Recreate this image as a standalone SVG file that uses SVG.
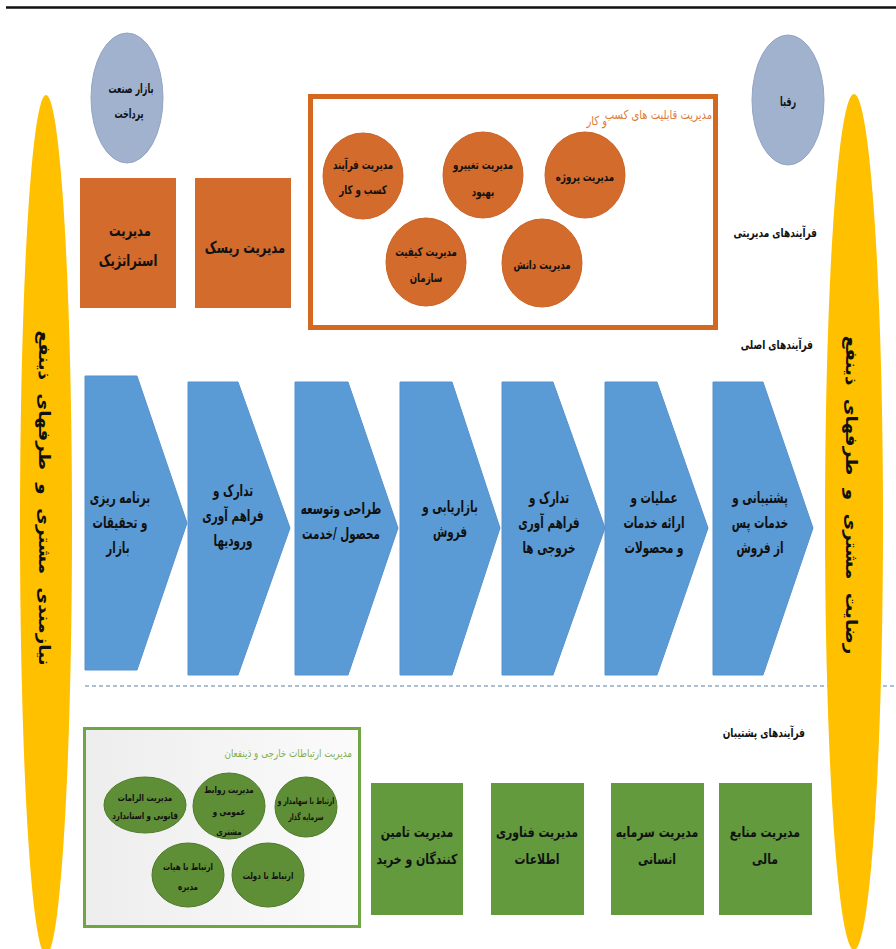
<svg xmlns="http://www.w3.org/2000/svg" width="896" height="949" viewBox="0 0 896 949">
<defs>
<style>
.t{font-family:'DejaVu Sans',sans-serif;font-weight:bold;fill:#111;text-anchor:middle}
.chev{fill:#5B9BD5;stroke:#5592CF;stroke-width:1}
.ob{fill:#D26B2B}
.oc{fill:#D26B2B;stroke:#C96326;stroke-width:1}
.gb{fill:#629A3D}
.gc{fill:#5E8F36;stroke:#4E7A2A;stroke-width:1}
.bl{fill:#A1B2CE;stroke:#93A5C4;stroke-width:1}
.yl{fill:#FFC000}
.lab{font-family:'DejaVu Sans',sans-serif;font-weight:bold;fill:#111;text-anchor:end;font-size:12.5px}
.cv{font-size:16px}
.gx{font-size:14px}
.oo{font-size:12px}
.gs{font-size:9.5px}
</style>
<linearGradient id="gg" x1="0" y1="0" x2="1" y2="0">
<stop offset="0" stop-color="#EDEDED"/><stop offset="1" stop-color="#FBFBFB"/>
</linearGradient>
</defs>
<rect width="896" height="949" fill="#fff"/>
<g id="decor">
<line x1="6" y1="7.5" x2="896" y2="7.5" stroke="#111" stroke-width="2.5"/>
<line x1="85" y1="686" x2="896" y2="686" stroke="#5B7FA8" stroke-width="1.2" stroke-dasharray="4,3"/>
</g>
<g id="left-needs">
<ellipse class="yl" cx="46" cy="525" rx="26" ry="430"/>
<text class="t" font-size="16" word-spacing="6" transform="translate(39,498) rotate(90) scale(1.15,1)">نیازمندی مشتری و طرفهای ذینفع</text>
</g>
<g id="right-satisfaction">
<ellipse class="yl" cx="854" cy="522" rx="29" ry="428"/>
<text class="t" font-size="16" word-spacing="6" transform="translate(846,495) rotate(90) scale(1.15,1)">رضایت مشتری و طرفهای ذینفع</text>
</g>
<g id="payment-industry">
<ellipse class="bl" cx="127" cy="98" rx="36" ry="65"/>
<text class="t" font-size="13" transform="matrix(0.62 0 0 1 131 93)">بازار صنعت</text>
<text class="t" font-size="13" transform="matrix(0.62 0 0 1 129 118)">پرداخت</text>
</g>
<g id="competitors">
<ellipse class="bl" cx="788" cy="100" rx="36" ry="65"/>
<text class="t" font-size="13" transform="matrix(0.62 0 0 1 788 106)">رقبا</text>
</g>
<g id="strategic">
<rect class="ob" x="80" y="178" width="96" height="130"/>
<text class="t" font-size="16" transform="matrix(0.72 0 0 1 130 236)">مدیریت</text>
<text class="t" font-size="16" transform="matrix(0.72 0 0 1 128 266)">استراتژیک</text>
</g>
<g id="risk">
<rect class="ob" x="195" y="178" width="96" height="130"/>
<text class="t" font-size="16" transform="matrix(0.72 0 0 1 245 253)">مدیریت ریسک</text>
</g>
<g id="capabilities">
<rect x="310.5" y="96.5" width="405" height="231" fill="#fff" stroke="#D2691E" stroke-width="5"/>
<text font-family="'DejaVu Sans',sans-serif" font-size="12.5" fill="#E07B39" text-anchor="end" transform="matrix(0.8 0 0 1 712 119)">مدیریت قابلیت های کسب</text>
<text font-family="'DejaVu Sans',sans-serif" font-size="12.5" fill="#E07B39" text-anchor="end" transform="matrix(0.8 0 0 1 607 125)">و کار</text>
</g>
<g id="bpm">
<ellipse class="oc" cx="363" cy="176" rx="40" ry="43"/>
<text class="t oo" transform="matrix(0.72 0 0 1 363 169)">مدیریت فرآیند</text>
<text class="t oo" transform="matrix(0.72 0 0 1 363 194)">کسب و کار</text>
</g>
<g id="change">
<ellipse class="oc" cx="483" cy="175" rx="40" ry="43"/>
<text class="t oo" transform="matrix(0.72 0 0 1 483 169)">مدیریت تغییرو</text>
<text class="t oo" transform="matrix(0.72 0 0 1 483 196)">بهبود</text>
</g>
<g id="project">
<ellipse class="oc" cx="585" cy="175" rx="40" ry="43"/>
<text class="t oo" transform="matrix(0.72 0 0 1 585 181)">مدیریت پروژه</text>
</g>
<g id="quality">
<ellipse class="oc" cx="426" cy="262" rx="40" ry="44"/>
<text class="t oo" transform="matrix(0.72 0 0 1 426 256)">مدیریت کیفیت</text>
<text class="t oo" transform="matrix(0.72 0 0 1 426 282)">سازمان</text>
</g>
<g id="knowledge">
<ellipse class="oc" cx="542" cy="263" rx="40" ry="44"/>
<text class="t oo" transform="matrix(0.72 0 0 1 542 269)">مدیریت دانش</text>
</g>
<text class="lab" transform="matrix(0.72 0 0 1 817 237)">فرآیندهای مدیریتی</text>
<text class="lab" transform="matrix(0.72 0 0 1 813 349)">فرآیندهای اصلی</text>
<g id="ch1">
<path class="chev" d="M85,376 H137 L187,523 L137,670 H85 Z"/>
<text class="t cv" transform="matrix(0.65 0 0 1 120 503)">برنامه ریزی</text>
<text class="t cv" transform="matrix(0.65 0 0 1 120 528)">و تحقیقات</text>
<text class="t cv" transform="matrix(0.65 0 0 1 118 553)">بازار</text>
</g>
<g id="ch2">
<path class="chev" d="M188,382 H238 L290,528 L238,675 H188 Z"/>
<text class="t cv" transform="matrix(0.65 0 0 1 233 496)">تدارک و</text>
<text class="t cv" transform="matrix(0.65 0 0 1 233 521)">فراهم آوری</text>
<text class="t cv" transform="matrix(0.65 0 0 1 233 546)">ورودیها</text>
</g>
<g id="ch3">
<path class="chev" d="M295,382 H348 L398,528 L348,675 H295 Z"/>
<text class="t cv" transform="matrix(0.65 0 0 1 341 514)">طراحی وتوسعه</text>
<text class="t cv" transform="matrix(0.65 0 0 1 341 539)">محصول /خدمت</text>
</g>
<g id="ch4">
<path class="chev" d="M400,382 H452 L500,528 L452,675 H400 Z"/>
<text class="t cv" transform="matrix(0.65 0 0 1 450 512)">بازاریابی و</text>
<text class="t cv" transform="matrix(0.65 0 0 1 450 537)">فروش</text>
</g>
<g id="ch5">
<path class="chev" d="M502,382 H553 L605,528 L553,675 H502 Z"/>
<text class="t cv" transform="matrix(0.65 0 0 1 549 503)">تدارک و</text>
<text class="t cv" transform="matrix(0.65 0 0 1 549 528)">فراهم آوری</text>
<text class="t cv" transform="matrix(0.65 0 0 1 549 553)">خروجی ها</text>
</g>
<g id="ch6">
<path class="chev" d="M605,382 H657 L708,528 L657,675 H605 Z"/>
<text class="t cv" transform="matrix(0.65 0 0 1 654 503)">عملیات و</text>
<text class="t cv" transform="matrix(0.65 0 0 1 654 528)">ارائه خدمات</text>
<text class="t cv" transform="matrix(0.65 0 0 1 654 553)">و محصولات</text>
</g>
<g id="ch7">
<path class="chev" d="M713,382 H763 L813,528 L763,675 H713 Z"/>
<text class="t cv" transform="matrix(0.65 0 0 1 760 503)">پشتیبانی و</text>
<text class="t cv" transform="matrix(0.65 0 0 1 760 528)">خدمات پس</text>
<text class="t cv" transform="matrix(0.65 0 0 1 760 553)">از فروش</text>
</g>
<text class="lab" transform="matrix(0.72 0 0 1 805 737)">فرآیندهای پشتیبان</text>
<g id="external">
<rect x="84.5" y="728.5" width="275" height="198" fill="url(#gg)" stroke="#6FA545" stroke-width="3"/>
<text font-family="'DejaVu Sans',sans-serif" font-size="11" fill="#7FAF55" text-anchor="end" transform="matrix(0.8 0 0 1 352 757)">مدیریت ارتباطات خارجی و ذینفعان</text>
</g>
<g id="legal">
<ellipse class="gc" cx="145" cy="805" rx="41" ry="28"/>
<text class="t gs" transform="matrix(0.75 0 0 1 145 801)">مدیریت الزامات</text>
<text class="t gs" transform="matrix(0.75 0 0 1 145 819)">قانونی و استاندارد</text>
</g>
<g id="pr">
<ellipse class="gc" cx="229" cy="806" rx="36" ry="33"/>
<text class="t gs" transform="matrix(0.75 0 0 1 229 793)">مدیریت روابط</text>
<text class="t gs" transform="matrix(0.75 0 0 1 229 815)">عمومی و</text>
<text class="t gs" transform="matrix(0.75 0 0 1 229 835)">مشتری</text>
</g>
<g id="shareholders">
<ellipse class="gc" cx="306" cy="807" rx="31" ry="30"/>
<text class="t" font-size="9" transform="matrix(0.65 0 0 1 306 804)">ارتباط با سهامدار و</text>
<text class="t" font-size="9" transform="matrix(0.65 0 0 1 306 820)">سرمایه گذار</text>
</g>
<g id="board">
<ellipse class="gc" cx="188" cy="875" rx="36" ry="32"/>
<text class="t gs" transform="matrix(0.75 0 0 1 188 870)">ارتباط با هیات</text>
<text class="t gs" transform="matrix(0.75 0 0 1 188 890)">مدیره</text>
</g>
<g id="government">
<ellipse class="gc" cx="268" cy="875" rx="36" ry="32"/>
<text class="t gs" transform="matrix(0.75 0 0 1 268 879)">ارتباط با دولت</text>
</g>
<g id="procurement">
<rect class="gb" x="371" y="783" width="92" height="132"/>
<text class="t gx" transform="matrix(0.78 0 0 1 417 837)">مدیریت تامین</text>
<text class="t gx" transform="matrix(0.78 0 0 1 417 864)">کنندگان و خرید</text>
</g>
<g id="it">
<rect class="gb" x="491" y="783" width="93" height="132"/>
<text class="t gx" transform="matrix(0.78 0 0 1 537 837)">مدیریت فناوری</text>
<text class="t gx" transform="matrix(0.78 0 0 1 537 864)">اطلاعات</text>
</g>
<g id="hr">
<rect class="gb" x="611" y="783" width="93" height="132"/>
<text class="t gx" transform="matrix(0.78 0 0 1 657 837)">مدیریت سرمایه</text>
<text class="t gx" transform="matrix(0.78 0 0 1 657 864)">انسانی</text>
</g>
<g id="finance">
<rect class="gb" x="719" y="783" width="93" height="132"/>
<text class="t gx" transform="matrix(0.78 0 0 1 765 837)">مدیریت منابع</text>
<text class="t gx" transform="matrix(0.78 0 0 1 765 864)">مالی</text>
</g>
<g id="connectors"></g>
</svg>
